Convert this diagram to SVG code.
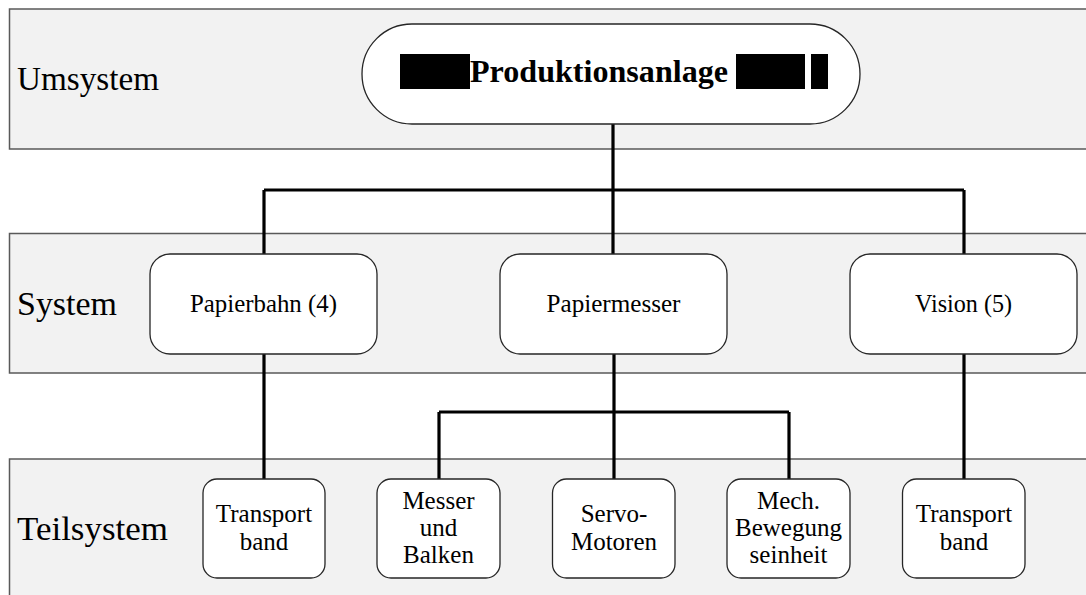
<svg xmlns="http://www.w3.org/2000/svg" width="1086" height="595" viewBox="0 0 1086 595">
  <style>
    .band { fill: #f2f2f2; stroke: #595959; stroke-width: 1.5; }
    .box { fill: #ffffff; stroke: #262626; stroke-width: 1.3; }
    .lbl { font-family: "Liberation Serif", "Times New Roman", serif; font-size: 34px; fill: #000; }
    .txt { font-family: "Liberation Serif", "Times New Roman", serif; font-size: 25px; fill: #000; text-anchor: middle; }
    .title { font-family: "Liberation Serif", "Times New Roman", serif; font-size: 31px; font-weight: bold; fill: #000; }
    .conn { fill: none; stroke: #000; stroke-width: 3.2; }
    .redact { fill: #000; }
  </style>

  <g id="bands">
    <rect class="band" x="9.5" y="9" width="1090" height="140"/>
    <rect class="band" x="9.5" y="233.5" width="1090" height="139.5"/>
    <rect class="band" x="9.5" y="459" width="1090" height="150"/>
    <text class="lbl" x="17" y="90" textLength="142" lengthAdjust="spacingAndGlyphs">Umsystem</text>
    <text class="lbl" x="17" y="315" textLength="100" lengthAdjust="spacingAndGlyphs">System</text>
    <text class="lbl" x="17" y="540" textLength="151" lengthAdjust="spacingAndGlyphs">Teilsystem</text>
  </g>

  <g id="connectors">
    <path class="conn" d="M613,124 V190 M264,190 H964 M264,190 V254 M613,190 V254 M964,190 V254"/>
    <path class="conn" d="M264,354 V479 M964,354 V479 M614,354 V479 M439,412 H789 M439,412 V479 M789,412 V479"/>
  </g>

  <g id="produktionsanlage">
    <rect class="box" x="362" y="24" width="498" height="100" rx="50" ry="50"/>
    <rect class="redact" x="400" y="54" width="70" height="35"/>
    <text class="title" x="470" y="82" textLength="258" lengthAdjust="spacingAndGlyphs">Produktionsanlage</text>
    <rect class="redact" x="736" y="54" width="69" height="35"/>
    <rect class="redact" x="811" y="54" width="17" height="35"/>
  </g>

  <g id="papierbahn">
    <rect class="box" x="150" y="254" width="227" height="100" rx="20" ry="20"/>
    <text class="txt" x="263.5" y="311.5" textLength="147" lengthAdjust="spacingAndGlyphs">Papierbahn (4)</text>
  </g>
  <g id="papiermesser">
    <rect class="box" x="500" y="254" width="227" height="100" rx="20" ry="20"/>
    <text class="txt" x="613.5" y="311.5" textLength="134" lengthAdjust="spacingAndGlyphs">Papiermesser</text>
  </g>
  <g id="vision">
    <rect class="box" x="850" y="254" width="227" height="100" rx="20" ry="20"/>
    <text class="txt" x="963.5" y="311.5" textLength="97" lengthAdjust="spacingAndGlyphs">Vision (5)</text>
  </g>

  <g id="transportband1">
    <rect class="box" x="203" y="479" width="122" height="99" rx="14" ry="14"/>
    <text class="txt" x="264" y="522">Transport</text>
    <text class="txt" x="264" y="549.5">band</text>
  </g>
  <g id="messer">
    <rect class="box" x="377" y="479" width="123" height="99" rx="14" ry="14"/>
    <text class="txt" x="438.5" y="509">Messer</text>
    <text class="txt" x="438.5" y="536">und</text>
    <text class="txt" x="438.5" y="563">Balken</text>
  </g>
  <g id="servo">
    <rect class="box" x="552.5" y="479" width="122.5" height="99" rx="14" ry="14"/>
    <text class="txt" x="614" y="522">Servo-</text>
    <text class="txt" x="614" y="549.5">Motoren</text>
  </g>
  <g id="mech">
    <rect class="box" x="727" y="479" width="123" height="99" rx="14" ry="14"/>
    <text class="txt" x="788.5" y="509">Mech.</text>
    <text class="txt" x="788.5" y="536">Bewegung</text>
    <text class="txt" x="788.5" y="563">seinheit</text>
  </g>
  <g id="transportband2">
    <rect class="box" x="902.5" y="479" width="122.5" height="99" rx="14" ry="14"/>
    <text class="txt" x="964" y="522">Transport</text>
    <text class="txt" x="964" y="549.5">band</text>
  </g>
</svg>
